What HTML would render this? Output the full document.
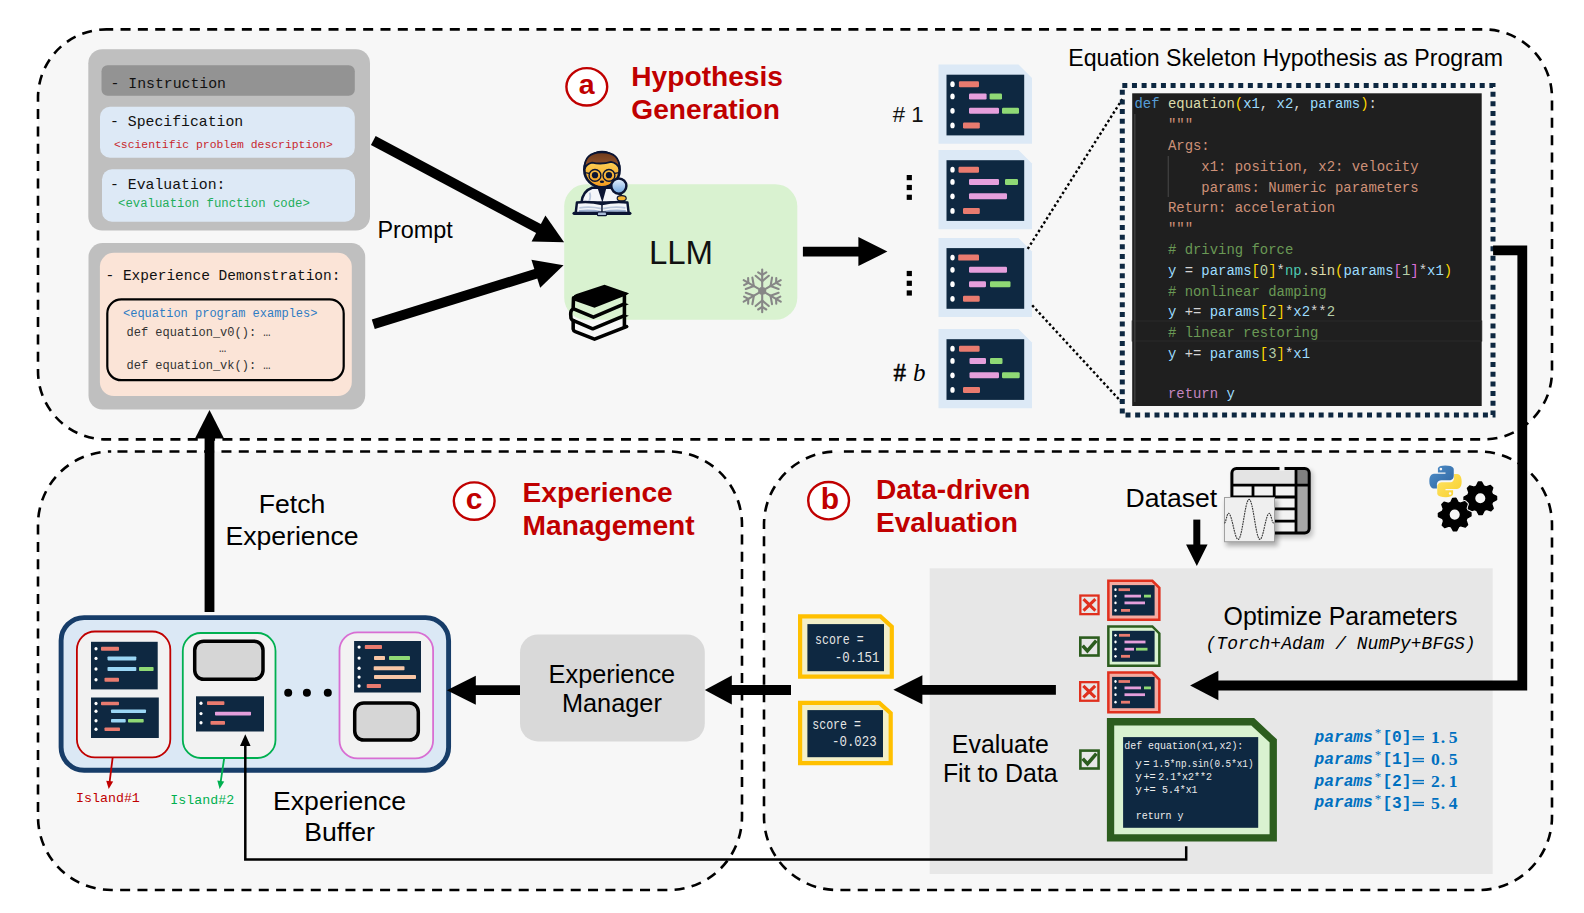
<!DOCTYPE html>
<html><head><meta charset="utf-8"><title>Diagram</title>
<style>html,body{margin:0;padding:0;background:#fff;} svg{display:block;}</style></head>
<body><svg width="1584" height="913" viewBox="0 0 1584 913">
<defs><linearGradient id="pyb" x1="0" y1="0" x2="1" y2="1"><stop offset="0" stop-color="#4f8fca"/><stop offset="1" stop-color="#2f65a0"/></linearGradient><linearGradient id="pyy" x1="1" y1="1" x2="0" y2="0"><stop offset="0" stop-color="#f7cf2a"/><stop offset="1" stop-color="#ffe46a"/></linearGradient><filter id="blur" x="-20%" y="-20%" width="140%" height="140%"><feGaussianBlur stdDeviation="2.5"/></filter></defs>
<rect width="1584" height="913" fill="#fff"/>
<rect x="38" y="29.4" width="1514" height="410" rx="68.3" fill="#f7f7f7" stroke="#000" stroke-width="2.6" stroke-dasharray="10 7.33" stroke-dashoffset="-14.24"/>
<rect x="38" y="451.5" width="704" height="438.5" rx="73.2" fill="#f7f7f7" stroke="#000" stroke-width="2.6" stroke-dasharray="10 7.33" stroke-dashoffset="-6.27"/>
<rect x="764" y="451.5" width="788" height="438.5" rx="73.2" fill="#f7f7f7" stroke="#000" stroke-width="2.6" stroke-dasharray="10 7.33" stroke-dashoffset="-6.7"/>
<rect x="929.7" y="568.3" width="563" height="305.7" fill="#e7e7e7"/>
<rect x="88.3" y="49.2" width="281.7" height="181.3" rx="14" fill="#bfbfbf" stroke="none" stroke-width="0" />
<rect x="101.5" y="65.2" width="253.3" height="30.6" rx="6" fill="#939393" stroke="none" stroke-width="0" />
<rect x="100" y="106.8" width="254.8" height="51" rx="10" fill="#dde9f6" stroke="none" stroke-width="0" />
<rect x="102" y="169.2" width="253" height="52.5" rx="10" fill="#dde9f6" stroke="none" stroke-width="0" />
<text x="110.5" y="87.7" font-size="14.8" fill="#111" style="font-family:'Liberation Mono',monospace" font-weight="normal" text-anchor="start"  xml:space="preserve">- Instruction</text>
<text x="110" y="125.8" font-size="14.8" fill="#111" style="font-family:'Liberation Mono',monospace" font-weight="normal" text-anchor="start"  xml:space="preserve">- Specification</text>
<text x="114" y="147.7" font-size="11.4" fill="#c8282e" style="font-family:'Liberation Mono',monospace" font-weight="normal" text-anchor="start"  xml:space="preserve">&lt;scientific problem description&gt;</text>
<text x="110" y="188.5" font-size="14.8" fill="#111" style="font-family:'Liberation Mono',monospace" font-weight="normal" text-anchor="start"  xml:space="preserve">- Evaluation:</text>
<text x="118" y="206.9" font-size="12.3" fill="#1fae5b" style="font-family:'Liberation Mono',monospace" font-weight="normal" text-anchor="start"  xml:space="preserve">&lt;evaluation function code&gt;</text>
<rect x="88.5" y="243.1" width="276.7" height="166.5" rx="14" fill="#bfbfbf" stroke="none" stroke-width="0" />
<rect x="99.9" y="252.8" width="251.9" height="143.2" rx="14" fill="#fbe4d7" stroke="none" stroke-width="0" />
<rect x="107.3" y="299.4" width="236.4" height="80.8" rx="14" fill="none" stroke="#000" stroke-width="2.2" />
<text x="105.5" y="280" font-size="14.5" fill="#111" style="font-family:'Liberation Mono',monospace" font-weight="normal" text-anchor="start"  xml:space="preserve">- Experience Demonstration:</text>
<text x="123" y="317" font-size="12" fill="#2e7cc4" style="font-family:'Liberation Mono',monospace" font-weight="normal" text-anchor="start"  xml:space="preserve">&lt;equation program examples&gt;</text>
<text x="126.5" y="336" font-size="12" fill="#333" style="font-family:'Liberation Mono',monospace" font-weight="normal" text-anchor="start"  xml:space="preserve">def equation_v0(): …</text>
<text x="219" y="352" font-size="12" fill="#333" style="font-family:'Liberation Mono',monospace" font-weight="normal" text-anchor="start"  xml:space="preserve">…</text>
<text x="126.5" y="368.7" font-size="12" fill="#333" style="font-family:'Liberation Mono',monospace" font-weight="normal" text-anchor="start"  xml:space="preserve">def equation_vk(): …</text>
<text x="377.4" y="238" font-size="23.4" fill="#000" style="font-family:'Liberation Sans',sans-serif" font-weight="normal" text-anchor="start"  xml:space="preserve">Prompt</text>
<ellipse cx="586.8" cy="86.8" rx="20.4" ry="18.7" fill="#fff" stroke="#c00000" stroke-width="2.4"/>
<text x="586.8" y="93.6" font-size="28.5" fill="#c00000" style="font-family:'Liberation Sans',sans-serif" font-weight="bold" text-anchor="middle"  xml:space="preserve">a</text>
<text x="631.3" y="85.9" font-size="28.15" fill="#c00000" style="font-family:'Liberation Sans',sans-serif" font-weight="bold" text-anchor="start"  xml:space="preserve">Hypothesis</text>
<text x="631.3" y="119.2" font-size="28.15" fill="#c00000" style="font-family:'Liberation Sans',sans-serif" font-weight="bold" text-anchor="start"  xml:space="preserve">Generation</text>
<ellipse cx="474.2" cy="501.1" rx="20.4" ry="18.7" fill="#fff" stroke="#c00000" stroke-width="2.4"/>
<text x="474.2" y="508.8" font-size="30" fill="#c00000" style="font-family:'Liberation Sans',sans-serif" font-weight="bold" text-anchor="middle"  xml:space="preserve">c</text>
<text x="522.6" y="502.4" font-size="28.15" fill="#c00000" style="font-family:'Liberation Sans',sans-serif" font-weight="bold" text-anchor="start"  xml:space="preserve">Experience</text>
<text x="522.6" y="535.1" font-size="28.15" fill="#c00000" style="font-family:'Liberation Sans',sans-serif" font-weight="bold" text-anchor="start"  xml:space="preserve">Management</text>
<ellipse cx="828.6" cy="500.7" rx="20.4" ry="18.7" fill="#fff" stroke="#c00000" stroke-width="2.4"/>
<text x="829.9" y="509.1" font-size="30" fill="#c00000" style="font-family:'Liberation Sans',sans-serif" font-weight="bold" text-anchor="middle"  xml:space="preserve">b</text>
<text x="875.9" y="499.1" font-size="28.1" fill="#c00000" style="font-family:'Liberation Sans',sans-serif" font-weight="bold" text-anchor="start"  xml:space="preserve">Data-driven</text>
<text x="875.9" y="531.9" font-size="28.1" fill="#c00000" style="font-family:'Liberation Sans',sans-serif" font-weight="bold" text-anchor="start"  xml:space="preserve">Evaluation</text>
<rect x="564.2" y="184.2" width="233.1" height="135.6" rx="22" fill="#d9f2d0" stroke="none" stroke-width="0" />
<text x="681" y="264.4" font-size="33" fill="#111" style="font-family:'Liberation Sans',sans-serif" font-weight="normal" text-anchor="middle"  xml:space="preserve">LLM</text>
<g stroke="#878787" stroke-width="2.1" stroke-linecap="round" fill="none"><line x1="762.2" y1="290.9" x2="762.20" y2="269.50"/><line x1="762.20" y1="281.27" x2="768.79" y2="275.74"/><line x1="762.20" y1="281.27" x2="755.61" y2="275.74"/><line x1="762.20" y1="274.85" x2="766.27" y2="272.31"/><line x1="762.20" y1="274.85" x2="758.13" y2="272.31"/><line x1="762.2" y1="290.9" x2="743.67" y2="280.20"/><line x1="753.86" y1="286.08" x2="752.37" y2="277.62"/><line x1="753.86" y1="286.08" x2="745.78" y2="289.03"/><line x1="748.30" y1="282.88" x2="748.13" y2="278.08"/><line x1="748.30" y1="282.88" x2="744.06" y2="285.13"/><line x1="762.2" y1="290.9" x2="743.67" y2="301.60"/><line x1="753.86" y1="295.71" x2="745.78" y2="292.77"/><line x1="753.86" y1="295.71" x2="752.37" y2="304.18"/><line x1="748.30" y1="298.92" x2="744.06" y2="296.67"/><line x1="748.30" y1="298.92" x2="748.13" y2="303.72"/><line x1="762.2" y1="290.9" x2="762.20" y2="312.30"/><line x1="762.20" y1="300.53" x2="755.61" y2="306.06"/><line x1="762.20" y1="300.53" x2="768.79" y2="306.06"/><line x1="762.20" y1="306.95" x2="758.13" y2="309.49"/><line x1="762.20" y1="306.95" x2="766.27" y2="309.49"/><line x1="762.2" y1="290.9" x2="780.73" y2="301.60"/><line x1="770.54" y1="295.71" x2="772.03" y2="304.18"/><line x1="770.54" y1="295.71" x2="778.62" y2="292.77"/><line x1="776.10" y1="298.92" x2="776.27" y2="303.72"/><line x1="776.10" y1="298.92" x2="780.34" y2="296.67"/><line x1="762.2" y1="290.9" x2="780.73" y2="280.20"/><line x1="770.54" y1="286.08" x2="778.62" y2="289.03"/><line x1="770.54" y1="286.08" x2="772.03" y2="277.62"/><line x1="776.10" y1="282.88" x2="780.34" y2="285.13"/><line x1="776.10" y1="282.88" x2="776.27" y2="278.08"/></g><polygon points="766.50,290.90 764.35,294.62 760.05,294.62 757.90,290.90 760.05,287.18 764.35,287.18" fill="#878787"/>
<g transform="translate(560,280) scale(0.07117)">
<path d="M185,245 Q188,212 232,198 L625,66 L968,186 L905,224 L485,390 L205,290 Z" fill="#000"/>
<g fill="none" stroke="#000" stroke-width="50" stroke-linecap="round" stroke-linejoin="round">
<path d="M190,250 L185,390"/>
<path d="M200,410 L470,522 L905,336"/>
<path d="M175,415 Q150,430 150,480 L155,540 Q160,560 190,570"/>
<path d="M190,570 L460,686 L905,500"/>
<path d="M185,575 L185,690 Q188,715 215,725 L485,832 L935,655"/>
<path d="M905,210 L905,655"/>
</g>
<polygon points="900,170 968,188 900,228" fill="#000"/>
<polygon points="900,320 968,342 900,370" fill="#000"/>
<polygon points="900,480 968,502 900,530" fill="#000"/>
<polygon points="900,630 968,652 900,690" fill="#000"/>
</g>
<g transform="translate(565,145) scale(0.08217)">
<defs>
<linearGradient id="face" x1="0" y1="0" x2="0" y2="1"><stop offset="0" stop-color="#ffe36a"/><stop offset="1" stop-color="#f39a1e"/></linearGradient>
<linearGradient id="hair" x1="0" y1="0" x2="0" y2="1"><stop offset="0" stop-color="#6e3a1c"/><stop offset="1" stop-color="#9a5a2e"/></linearGradient>
<linearGradient id="lens" x1="0" y1="0" x2="0" y2="1"><stop offset="0" stop-color="#e9f4ff"/><stop offset="1" stop-color="#6ea6e0"/></linearGradient>
</defs>
<path d="M200,700 Q215,560 330,520 L570,520 Q690,560 710,700 Z" fill="#f4f6fa" stroke="#0b1533" stroke-width="30"/>
<path d="M395,520 L505,520 L455,700 Z" fill="#0b1533"/>
<path d="M300,580 Q320,640 290,690" fill="none" stroke="#b9c6dc" stroke-width="22"/>
<circle cx="450" cy="300" r="215" fill="url(#face)" stroke="#0b1533" stroke-width="32"/>
<path d="M240,290 Q230,90 450,88 Q670,90 662,290 Q640,220 560,205 Q450,240 330,215 Q260,230 240,290 Z" fill="url(#hair)" stroke="#0b1533" stroke-width="22"/>
<circle cx="365" cy="370" r="72" fill="none" stroke="#0b1533" stroke-width="17"/>
<circle cx="535" cy="370" r="72" fill="none" stroke="#0b1533" stroke-width="17"/>
<circle cx="365" cy="368" r="38" fill="#0b1533"/>
<circle cx="535" cy="368" r="38" fill="#0b1533"/>
<path d="M245,335 L293,345 M607,345 L655,335" stroke="#0b1533" stroke-width="16"/>
<ellipse cx="450" cy="447" rx="26" ry="16" fill="#0b1533"/>
<ellipse cx="690" cy="648" rx="55" ry="32" fill="#f7b733" stroke="#0b1533" stroke-width="14"/>
<circle cx="655" cy="500" r="92" fill="url(#lens)" stroke="#0b1533" stroke-width="30"/>
<path d="M130,830 L145,700 Q300,680 450,720 Q600,680 760,700 L775,830 Z" fill="#f4f6fa" stroke="#0b1533" stroke-width="30" stroke-linejoin="round"/>
<path d="M175,765 Q310,745 440,775 M465,775 Q600,745 735,765" fill="none" stroke="#b9c6dc" stroke-width="22"/>
<path d="M170,805 Q310,790 440,815 M465,815 Q600,790 740,805" fill="none" stroke="#9fb3d3" stroke-width="26"/>
<line x1="450" y1="715" x2="450" y2="830" stroke="#0b1533" stroke-width="18"/>
<line x1="110" y1="832" x2="790" y2="832" stroke="#0b1533" stroke-width="38" stroke-linecap="round"/>
<rect x="395" y="815" width="110" height="45" rx="12" fill="#a9bbd8" stroke="#0b1533" stroke-width="14"/>
</g>
<line x1="373.3" y1="140.5" x2="539.39" y2="229.03" stroke="#000" stroke-width="10"/>
<polygon points="564.10,242.20 531.59,241.53 545.42,215.59" fill="#000"/>
<line x1="373.3" y1="324.3" x2="536.76" y2="273.51" stroke="#000" stroke-width="10"/>
<polygon points="563.50,265.20 540.17,287.84 531.44,259.77" fill="#000"/>
<line x1="802.9" y1="251.6" x2="859.40" y2="251.60" stroke="#000" stroke-width="9.9"/>
<polygon points="887.40,251.60 858.40,266.10 858.40,237.10" fill="#000"/>
<polygon points="938.5,64.5 1018.5,64.5 1032.0,78.0 1032.0,143.7 938.5,143.7" fill="#dce9f6" />
<rect x="946.5" y="74.7" width="77.7" height="60.7" fill="#0e2841"/>
<ellipse cx="952.5" cy="84.2" rx="2.2" ry="2.9" fill="#fff"/>
<rect x="958.9" y="81.2" width="20.100000000000023" height="6" rx="1.2" fill="#e97b6f"/>
<ellipse cx="952.5" cy="96.4" rx="2.2" ry="2.9" fill="#fff"/>
<rect x="969.0" y="93.4" width="17.600000000000023" height="6" rx="1.2" fill="#e59fdc"/>
<rect x="989.6" y="93.4" width="12.399999999999977" height="6" rx="1.2" fill="#8fd975"/>
<ellipse cx="952.5" cy="110.80000000000001" rx="2.2" ry="2.9" fill="#fff"/>
<rect x="969.0" y="107.80000000000001" width="30.0" height="6" rx="1.2" fill="#e59fdc"/>
<rect x="1002.0" y="107.80000000000001" width="17.0" height="6" rx="1.2" fill="#8fd975"/>
<ellipse cx="952.5" cy="125.4" rx="2.2" ry="2.9" fill="#fff"/>
<rect x="963.0" y="122.4" width="16.799999999999955" height="6" rx="1.2" fill="#e97b6f"/>
<polygon points="938.5,150 1018.5,150 1032.0,163.5 1032.0,229.2 938.5,229.2" fill="#dce9f6" />
<rect x="946.5" y="160.2" width="77.7" height="60.7" fill="#0e2841"/>
<ellipse cx="952.5" cy="169.7" rx="2.2" ry="2.9" fill="#fff"/>
<rect x="958.5" y="166.7" width="20.5" height="6" rx="1.2" fill="#e97b6f"/>
<ellipse cx="952.5" cy="181.89999999999998" rx="2.2" ry="2.9" fill="#fff"/>
<rect x="969.0" y="178.89999999999998" width="30.0" height="6" rx="1.2" fill="#e59fdc"/>
<rect x="1005.0" y="178.89999999999998" width="13.0" height="6" rx="1.2" fill="#8fd975"/>
<ellipse cx="952.5" cy="196.29999999999998" rx="2.2" ry="2.9" fill="#fff"/>
<rect x="969.0" y="193.29999999999998" width="38.0" height="6" rx="1.2" fill="#e59fdc"/>
<ellipse cx="952.5" cy="210.89999999999998" rx="2.2" ry="2.9" fill="#fff"/>
<rect x="963.0" y="207.89999999999998" width="16.799999999999955" height="6" rx="1.2" fill="#e97b6f"/>
<polygon points="938.5,237.9 1018.5,237.9 1032.0,251.4 1032.0,317.1 938.5,317.1" fill="#dce9f6" />
<rect x="946.5" y="248.1" width="77.7" height="60.7" fill="#0e2841"/>
<ellipse cx="952.5" cy="257.6" rx="2.2" ry="2.9" fill="#fff"/>
<rect x="958.2" y="254.60000000000002" width="20.799999999999955" height="6" rx="1.2" fill="#e97b6f"/>
<ellipse cx="952.5" cy="269.8" rx="2.2" ry="2.9" fill="#fff"/>
<rect x="969.0" y="266.8" width="38.0" height="6" rx="1.2" fill="#e59fdc"/>
<ellipse cx="952.5" cy="284.2" rx="2.2" ry="2.9" fill="#fff"/>
<rect x="969.0" y="281.2" width="17.0" height="6" rx="1.2" fill="#e59fdc"/>
<rect x="990.0" y="281.2" width="20.5" height="6" rx="1.2" fill="#8fd975"/>
<ellipse cx="952.5" cy="298.8" rx="2.2" ry="2.9" fill="#fff"/>
<rect x="963.0" y="295.8" width="16.700000000000045" height="6" rx="1.2" fill="#e97b6f"/>
<polygon points="938.5,329 1018.5,329 1032.0,342.5 1032.0,408.2 938.5,408.2" fill="#dce9f6" />
<rect x="946.5" y="339.2" width="77.7" height="60.7" fill="#0e2841"/>
<ellipse cx="952.5" cy="348.7" rx="2.2" ry="2.9" fill="#fff"/>
<rect x="959.0" y="345.7" width="20.600000000000023" height="6" rx="1.2" fill="#e97b6f"/>
<ellipse cx="952.5" cy="360.9" rx="2.2" ry="2.9" fill="#fff"/>
<rect x="969.5" y="357.9" width="16.5" height="6" rx="1.2" fill="#e59fdc"/>
<rect x="990.0" y="357.9" width="12.5" height="6" rx="1.2" fill="#8fd975"/>
<ellipse cx="952.5" cy="375.3" rx="2.2" ry="2.9" fill="#fff"/>
<rect x="969.5" y="372.3" width="29.5" height="6" rx="1.2" fill="#e59fdc"/>
<rect x="1002.0" y="372.3" width="17.700000000000045" height="6" rx="1.2" fill="#8fd975"/>
<ellipse cx="952.5" cy="389.9" rx="2.2" ry="2.9" fill="#fff"/>
<rect x="963.0" y="386.9" width="17.0" height="6" rx="1.2" fill="#e97b6f"/>
<text x="892.8" y="122" font-size="22.2" fill="#111" style="font-family:'Liberation Sans',sans-serif" font-weight="normal" text-anchor="start"  xml:space="preserve"># 1</text>
<text x="893.6" y="380.9" font-size="25" fill="#000" style="font-family:'Liberation Serif',serif" font-weight="normal" text-anchor="start" stroke="#000" stroke-width="0.55" xml:space="preserve">#</text>
<text x="913" y="380.9" font-size="25" fill="#000" style="font-family:'Liberation Serif',serif" font-weight="normal" text-anchor="start" font-style="italic" xml:space="preserve">b</text>
<rect x="906.6999999999999" y="175.0" width="5.2" height="5.2" fill="#000"/>
<rect x="906.6999999999999" y="184.9" width="5.2" height="5.2" fill="#000"/>
<rect x="906.6999999999999" y="194.70000000000002" width="5.2" height="5.2" fill="#000"/>
<rect x="906.6999999999999" y="270.9" width="5.2" height="5.2" fill="#000"/>
<rect x="906.6999999999999" y="280.7" width="5.2" height="5.2" fill="#000"/>
<rect x="906.6999999999999" y="290.4" width="5.2" height="5.2" fill="#000"/>
<line x1="1027.7" y1="248.9" x2="1122.3" y2="99.1" stroke="#000" stroke-width="2.4" stroke-dasharray="2.5 2.5"/>
<line x1="1032.2" y1="305.3" x2="1122.7" y2="403.4" stroke="#000" stroke-width="2.4" stroke-dasharray="2.5 2.5"/>
<text x="1068.3" y="65.9" font-size="23.15" fill="#000" style="font-family:'Liberation Sans',sans-serif" font-weight="normal" text-anchor="start"  xml:space="preserve">Equation Skeleton Hypothesis as Program</text>
<rect x="1122.3" y="85.6" width="370.7" height="329.4" fill="none" stroke="#0e2841" stroke-width="5" stroke-dasharray="5 4.66"/>
<rect x="1132.2" y="93.3" width="349.5" height="312.7" fill="#1f1f1f"/>
<rect x="1132.2" y="321" width="349.5" height="20" fill="none" stroke="#2a2a2a" stroke-width="1"/>
<line x1="1134.8" y1="114" x2="1134.8" y2="402" stroke="#404040" stroke-width="1.3"/>
<line x1="1168.3" y1="156" x2="1168.3" y2="197" stroke="#404040" stroke-width="1.3"/>
<text x="1134.5" y="107.8" font-size="13.93" style="font-family:'Liberation Mono',monospace" xml:space="preserve"><tspan fill="#569cd6">def </tspan><tspan fill="#dcdcaa">equation</tspan><tspan fill="#ffd700">(</tspan><tspan fill="#9cdcfe">x1</tspan><tspan fill="#d4d4d4">, </tspan><tspan fill="#9cdcfe">x2</tspan><tspan fill="#d4d4d4">, </tspan><tspan fill="#9cdcfe">params</tspan><tspan fill="#ffd700">)</tspan><tspan fill="#d4d4d4">:</tspan></text>
<text x="1134.5" y="128.5" font-size="13.93" style="font-family:'Liberation Mono',monospace" xml:space="preserve"><tspan fill="#ce9178">    """</tspan></text>
<text x="1134.5" y="150" font-size="13.93" style="font-family:'Liberation Mono',monospace" xml:space="preserve"><tspan fill="#ce9178">    Args:</tspan></text>
<text x="1134.5" y="170.5" font-size="13.93" style="font-family:'Liberation Mono',monospace" xml:space="preserve"><tspan fill="#ce9178">        x1: position, x2: velocity</tspan></text>
<text x="1134.5" y="191.7" font-size="13.93" style="font-family:'Liberation Mono',monospace" xml:space="preserve"><tspan fill="#ce9178">        params: Numeric parameters</tspan></text>
<text x="1134.5" y="212" font-size="13.93" style="font-family:'Liberation Mono',monospace" xml:space="preserve"><tspan fill="#ce9178">    Return: acceleration</tspan></text>
<text x="1134.5" y="232.8" font-size="13.93" style="font-family:'Liberation Mono',monospace" xml:space="preserve"><tspan fill="#ce9178">    """</tspan></text>
<text x="1134.5" y="254" font-size="13.93" style="font-family:'Liberation Mono',monospace" xml:space="preserve"><tspan fill="#6a9955">    # driving force</tspan></text>
<text x="1134.5" y="275" font-size="13.93" style="font-family:'Liberation Mono',monospace" xml:space="preserve"><tspan fill="#9cdcfe">    y</tspan><tspan fill="#d4d4d4"> = </tspan><tspan fill="#9cdcfe">params</tspan><tspan fill="#ffd700">[</tspan><tspan fill="#b5cea8">0</tspan><tspan fill="#ffd700">]</tspan><tspan fill="#d4d4d4">*</tspan><tspan fill="#4ec9b0">np</tspan><tspan fill="#d4d4d4">.</tspan><tspan fill="#dcdcaa">sin</tspan><tspan fill="#ffd700">(</tspan><tspan fill="#9cdcfe">params</tspan><tspan fill="#da70d6">[</tspan><tspan fill="#b5cea8">1</tspan><tspan fill="#da70d6">]</tspan><tspan fill="#d4d4d4">*</tspan><tspan fill="#9cdcfe">x1</tspan><tspan fill="#ffd700">)</tspan></text>
<text x="1134.5" y="295.7" font-size="13.93" style="font-family:'Liberation Mono',monospace" xml:space="preserve"><tspan fill="#6a9955">    # nonlinear damping</tspan></text>
<text x="1134.5" y="316.4" font-size="13.93" style="font-family:'Liberation Mono',monospace" xml:space="preserve"><tspan fill="#9cdcfe">    y</tspan><tspan fill="#d4d4d4"> += </tspan><tspan fill="#9cdcfe">params</tspan><tspan fill="#ffd700">[</tspan><tspan fill="#b5cea8">2</tspan><tspan fill="#ffd700">]</tspan><tspan fill="#d4d4d4">*</tspan><tspan fill="#9cdcfe">x2</tspan><tspan fill="#d4d4d4">**</tspan><tspan fill="#b5cea8">2</tspan></text>
<text x="1134.5" y="336.6" font-size="13.93" style="font-family:'Liberation Mono',monospace" xml:space="preserve"><tspan fill="#6a9955">    # linear restoring</tspan></text>
<text x="1134.5" y="357.5" font-size="13.93" style="font-family:'Liberation Mono',monospace" xml:space="preserve"><tspan fill="#9cdcfe">    y</tspan><tspan fill="#d4d4d4"> += </tspan><tspan fill="#9cdcfe">params</tspan><tspan fill="#ffd700">[</tspan><tspan fill="#b5cea8">3</tspan><tspan fill="#ffd700">]</tspan><tspan fill="#d4d4d4">*</tspan><tspan fill="#9cdcfe">x1</tspan></text>
<text x="1134.5" y="398" font-size="13.93" style="font-family:'Liberation Mono',monospace" xml:space="preserve"><tspan fill="#c586c0">    return </tspan><tspan fill="#9cdcfe">y</tspan></text>
<polyline points="1493.1,250.3 1522.3,250.3 1522.3,685.5 1217,685.5" fill="none" stroke="#000" stroke-width="9.8" stroke-linejoin="miter"/>
<polygon points="1190.1,685.5 1218.4,670.8 1218.4,700.2" fill="#000"/>
<line x1="209.5" y1="612" x2="209.50" y2="437.60" stroke="#000" stroke-width="9.8"/>
<polygon points="209.50,410.10 224.00,438.60 195.00,438.60" fill="#000"/>
<text x="292.1" y="512.8" font-size="26.6" fill="#000" style="font-family:'Liberation Sans',sans-serif" font-weight="normal" text-anchor="middle"  xml:space="preserve">Fetch</text>
<text x="292" y="544.6" font-size="26.6" fill="#000" style="font-family:'Liberation Sans',sans-serif" font-weight="normal" text-anchor="middle"  xml:space="preserve">Experience</text>
<rect x="61.1" y="617.6" width="387.5" height="152.7" rx="23" fill="#dbe8f5" stroke="#173d69" stroke-width="4.9" />
<rect x="76.9" y="631.5" width="93.4" height="125.8" rx="18" fill="#f2f2f2" stroke="#c00000" stroke-width="1.8" />
<rect x="182.8" y="633" width="92.7" height="125" rx="18" fill="#f2f2f2" stroke="#00b050" stroke-width="1.8" />
<rect x="339.5" y="632.4" width="93.6" height="126" rx="18" fill="#f2f2f2" stroke="#d86ed3" stroke-width="1.8" />
<circle cx="288.2" cy="692.7" r="4" fill="#000"/>
<circle cx="306.9" cy="692.7" r="4" fill="#000"/>
<circle cx="327.8" cy="692.7" r="4" fill="#000"/>
<rect x="194.7" y="641.2" width="68.3" height="38.1" rx="9" fill="#d6d6d6" stroke="#000" stroke-width="3.5" />
<rect x="354.7" y="703" width="63.6" height="37.1" rx="9" fill="#d6d6d6" stroke="#000" stroke-width="3.5" />
<rect x="91" y="641.8" width="66.69999999999999" height="47.60000000000002" fill="#0e2841"/>
<ellipse cx="96" cy="648.7" rx="1.6" ry="1.7" fill="#fff"/>
<rect x="101" y="646.7" width="18" height="4" rx="0.8" fill="#e97b6f"/>
<ellipse cx="96" cy="658.4" rx="1.6" ry="1.7" fill="#fff"/>
<rect x="107.5" y="656.4" width="28.80000000000001" height="4" rx="0.8" fill="#9bd6f4"/>
<ellipse cx="96" cy="669" rx="1.6" ry="1.7" fill="#fff"/>
<rect x="107.5" y="667.0" width="28.80000000000001" height="4" rx="0.8" fill="#9bd6f4"/>
<rect x="139" y="667.0" width="14.599999999999994" height="4" rx="0.8" fill="#8fd975"/>
<ellipse cx="96" cy="679.8" rx="1.6" ry="1.7" fill="#fff"/>
<rect x="104.5" y="677.8" width="14.5" height="4" rx="0.8" fill="#e97b6f"/>
<rect x="91" y="697.5" width="67.80000000000001" height="40.5" fill="#0e2841"/>
<ellipse cx="96" cy="703.5" rx="1.6" ry="1.7" fill="#fff"/>
<rect x="101" y="701.7" width="18" height="3.6" rx="0.8" fill="#e97b6f"/>
<ellipse cx="96" cy="711.3" rx="1.6" ry="1.7" fill="#fff"/>
<rect x="111" y="709.5" width="35" height="3.6" rx="0.8" fill="#9bd6f4"/>
<ellipse cx="96" cy="720.7" rx="1.6" ry="1.7" fill="#fff"/>
<rect x="111" y="718.9000000000001" width="14.700000000000003" height="3.6" rx="0.8" fill="#9bd6f4"/>
<rect x="128" y="718.9000000000001" width="15.699999999999989" height="3.6" rx="0.8" fill="#8fd975"/>
<ellipse cx="96" cy="729.3" rx="1.6" ry="1.7" fill="#fff"/>
<rect x="104.5" y="727.5" width="15.5" height="3.6" rx="0.8" fill="#e97b6f"/>
<rect x="196" y="696.3" width="68" height="35.200000000000045" fill="#0e2841"/>
<ellipse cx="201" cy="703.2" rx="1.6" ry="1.7" fill="#fff"/>
<rect x="207" y="701.3000000000001" width="17.400000000000006" height="3.8" rx="0.8" fill="#e97b6f"/>
<ellipse cx="201" cy="713.6" rx="1.6" ry="1.7" fill="#fff"/>
<rect x="215" y="711.7" width="36" height="3.8" rx="0.8" fill="#e59fdc"/>
<ellipse cx="201" cy="722.8" rx="1.6" ry="1.7" fill="#fff"/>
<rect x="210.5" y="720.9" width="14.5" height="3.8" rx="0.8" fill="#e97b6f"/>
<rect x="354.1" y="641" width="66.89999999999998" height="51.5" fill="#0e2841"/>
<ellipse cx="359.1" cy="647.1" rx="1.6" ry="1.7" fill="#fff"/>
<rect x="364.8" y="645.1" width="17.19999999999999" height="4" rx="0.8" fill="#e97b6f"/>
<ellipse cx="359.1" cy="658.1" rx="1.6" ry="1.7" fill="#fff"/>
<rect x="374" y="656.1" width="11" height="4" rx="0.8" fill="#f8c6a6"/>
<rect x="389" y="656.1" width="21" height="4" rx="0.8" fill="#8fd975"/>
<ellipse cx="359.1" cy="668.2" rx="1.6" ry="1.7" fill="#fff"/>
<rect x="373.7" y="666.2" width="30.80000000000001" height="4" rx="0.8" fill="#f8c6a6"/>
<ellipse cx="359.1" cy="677.1" rx="1.6" ry="1.7" fill="#fff"/>
<rect x="374" y="675.1" width="42" height="4" rx="0.8" fill="#f8c6a6"/>
<ellipse cx="359.1" cy="686" rx="1.6" ry="1.7" fill="#fff"/>
<rect x="366.7" y="684.0" width="14.300000000000011" height="4" rx="0.8" fill="#e97b6f"/>
<line x1="112.6" y1="758" x2="109.57" y2="782.05" stroke="#c00000" stroke-width="1.8"/>
<polygon points="108.70,789.00 106.23,780.63 113.17,781.50" fill="#c00000"/>
<line x1="224.2" y1="758" x2="220.63" y2="782.08" stroke="#00b050" stroke-width="1.8"/>
<polygon points="219.60,789.00 217.31,780.57 224.24,781.60" fill="#00b050"/>
<text x="76" y="801.7" font-size="13.3" fill="#c00000" style="font-family:'Liberation Mono',monospace" font-weight="normal" text-anchor="start"  xml:space="preserve">Island#1</text>
<text x="170.3" y="804" font-size="13.3" fill="#00b050" style="font-family:'Liberation Mono',monospace" font-weight="normal" text-anchor="start"  xml:space="preserve">Island#2</text>
<text x="339.6" y="810.2" font-size="26.6" fill="#000" style="font-family:'Liberation Sans',sans-serif" font-weight="normal" text-anchor="middle"  xml:space="preserve">Experience</text>
<text x="339.6" y="840.7" font-size="26.6" fill="#000" style="font-family:'Liberation Sans',sans-serif" font-weight="normal" text-anchor="middle"  xml:space="preserve">Buffer</text>
<polyline points="1186.2,846.3 1186.2,859.5 245.3,859.5 245.3,744" fill="none" stroke="#000" stroke-width="2.5"/>
<polygon points="245.3,734.3 240,746 250.6,746" fill="#000"/>
<rect x="520" y="634.5" width="184.8" height="106.9" rx="18" fill="#d9d9d9" stroke="none" stroke-width="0" />
<text x="611.9" y="682.8" font-size="25.3" fill="#000" style="font-family:'Liberation Sans',sans-serif" font-weight="normal" text-anchor="middle"  xml:space="preserve">Experience</text>
<text x="611.9" y="712.4" font-size="25.3" fill="#000" style="font-family:'Liberation Sans',sans-serif" font-weight="normal" text-anchor="middle"  xml:space="preserve">Manager</text>
<line x1="520" y1="690.2" x2="474.80" y2="690.20" stroke="#000" stroke-width="9.8"/>
<polygon points="446.80,690.20 475.80,675.70 475.80,704.70" fill="#000"/>
<line x1="791" y1="690" x2="730.80" y2="690.00" stroke="#000" stroke-width="9.8"/>
<polygon points="704.80,690.00 731.80,675.50 731.80,704.50" fill="#000"/>
<line x1="1055.9" y1="689.8" x2="921.40" y2="689.80" stroke="#000" stroke-width="9.8"/>
<polygon points="893.40,689.80 922.40,675.30 922.40,704.30" fill="#000"/>
<text x="1125.6" y="507.1" font-size="26.55" fill="#000" style="font-family:'Liberation Sans',sans-serif" font-weight="normal" text-anchor="start"  xml:space="preserve">Dataset</text>
<line x1="1196.8" y1="519.6" x2="1196.80" y2="545.60" stroke="#000" stroke-width="7"/>
<polygon points="1196.80,566.10 1186.05,544.60 1207.55,544.60" fill="#000"/>
<g>
<rect x="1233" y="470" width="80" height="68" rx="5" fill="#000" opacity="0.22" filter="url(#blur)"/>
<rect x="1231.9" y="468.4" width="77.3" height="64.6" rx="4.5" fill="#f2f2f2"/>
<rect x="1233" y="469.5" width="62" height="15" fill="#e4e4e4"/>
<rect x="1297" y="469.5" width="11" height="15" fill="#808080"/>
<rect x="1297" y="486" width="11" height="46" fill="#a6a6a6"/>
<rect x="1231.9" y="468.4" width="77.3" height="64.6" rx="4.5" fill="none" stroke="#000" stroke-width="3"/>
<rect x="1279.5" y="466" width="5" height="4.5" fill="#f6f6f6"/>
<g stroke="#000" stroke-width="2.8">
<line x1="1231" y1="485.1" x2="1309" y2="485.1"/>
<line x1="1231" y1="497" x2="1296" y2="497"/>
<line x1="1231" y1="508.8" x2="1296" y2="508.8"/>
<line x1="1231" y1="521.1" x2="1296" y2="521.1"/>
<line x1="1253" y1="485" x2="1253" y2="497"/>
<line x1="1274.2" y1="485" x2="1274.2" y2="497"/>
<line x1="1296" y1="468" x2="1296" y2="533"/>
</g>
</g>
<rect x="1226" y="500" width="52" height="46" fill="#000" opacity="0.3" filter="url(#blur)"/>
<rect x="1224.5" y="497.5" width="50" height="44.2" fill="#efefef" stroke="#a0a0a0" stroke-width="1"/>
<path d="M1224.4,523.1 C1225.92,523.10 1226.88,513.30 1228.4,513.3 C1232.12,513.30 1234.48,539.40 1238.2,539.4 C1242.34,539.40 1244.96,499.40 1249.1,499.4 C1253.20,499.40 1255.80,539.40 1259.9,539.4 C1263.47,539.40 1265.73,513.30 1269.3,513.3 C1270.97,513.30 1272.03,523.10 1273.7,523.1" fill="none" stroke="#333" stroke-width="1.1" stroke-dasharray="1.8 0.8"/>
<g transform="translate(1429,464.8) scale(0.33)">
<path d="M49,2 C26,2 27,12 27,12 L27,23 L50,23 L50,27 L17,27 C17,27 1,25 1,49 C1,73 15,72 15,72 L24,72 L24,61 C24,61 23,47 38,47 L61,47 C61,47 75,47 75,33 L75,14 C75,14 77,2 49,2 Z M36,9 A4,4 0 1 1 36,17 A4,4 0 1 1 36,9 Z" fill="url(#pyb)"/>
<path d="M51,98 C74,98 73,88 73,88 L73,77 L50,77 L50,73 L83,73 C83,73 99,75 99,51 C99,27 85,28 85,28 L76,28 L76,39 C76,39 77,53 62,53 L39,53 C39,53 25,53 25,67 L25,86 C25,86 23,98 51,98 Z M64,83 A4,4 0 1 1 64,91 A4,4 0 1 1 64,83 Z" fill="url(#pyy)"/>
</g>
<path d="M1496.48,496.35 L1496.55,499.54 L1492.54,501.72 L1491.64,504.05 L1493.12,508.36 L1490.91,510.67 L1486.54,509.38 L1484.26,510.38 L1482.25,514.48 L1479.06,514.55 L1476.88,510.54 L1474.55,509.64 L1470.24,511.12 L1467.93,508.91 L1469.22,504.54 L1468.22,502.26 L1464.12,500.25 L1464.05,497.06 L1468.06,494.88 L1468.96,492.55 L1467.48,488.24 L1469.69,485.93 L1474.06,487.22 L1476.34,486.22 L1478.35,482.12 L1481.54,482.05 L1483.72,486.06 L1486.05,486.96 L1490.36,485.48 L1492.67,487.69 L1491.38,492.06 L1492.38,494.34 Z M1486.1,498.3 A5.8,5.8 0 1 0 1474.5,498.3 A5.8,5.8 0 1 0 1486.1,498.3 Z" fill="#000" fill-rule="evenodd" stroke="#000" stroke-width="1.5" stroke-linejoin="round"/>
<path d="M1470.88,512.65 L1470.95,515.84 L1466.94,518.02 L1466.04,520.35 L1467.52,524.66 L1465.31,526.97 L1460.94,525.68 L1458.66,526.68 L1456.65,530.78 L1453.46,530.85 L1451.28,526.84 L1448.95,525.94 L1444.64,527.42 L1442.33,525.21 L1443.62,520.84 L1442.62,518.56 L1438.52,516.55 L1438.45,513.36 L1442.46,511.18 L1443.36,508.85 L1441.88,504.54 L1444.09,502.23 L1448.46,503.52 L1450.74,502.52 L1452.75,498.42 L1455.94,498.35 L1458.12,502.36 L1460.45,503.26 L1464.76,501.78 L1467.07,503.99 L1465.78,508.36 L1466.78,510.64 Z" fill="#f7f7f7" stroke="#f7f7f7" stroke-width="3.5" stroke-linejoin="round"/>
<path d="M1470.88,512.65 L1470.95,515.84 L1466.94,518.02 L1466.04,520.35 L1467.52,524.66 L1465.31,526.97 L1460.94,525.68 L1458.66,526.68 L1456.65,530.78 L1453.46,530.85 L1451.28,526.84 L1448.95,525.94 L1444.64,527.42 L1442.33,525.21 L1443.62,520.84 L1442.62,518.56 L1438.52,516.55 L1438.45,513.36 L1442.46,511.18 L1443.36,508.85 L1441.88,504.54 L1444.09,502.23 L1448.46,503.52 L1450.74,502.52 L1452.75,498.42 L1455.94,498.35 L1458.12,502.36 L1460.45,503.26 L1464.76,501.78 L1467.07,503.99 L1465.78,508.36 L1466.78,510.64 Z M1460.5,514.6 A5.8,5.8 0 1 0 1448.9,514.6 A5.8,5.8 0 1 0 1460.5,514.6 Z" fill="#000" fill-rule="evenodd" stroke="#000" stroke-width="1.5" stroke-linejoin="round"/>
<rect x="1080.3500000000001" y="595.55" width="18.2" height="18.6" fill="none" stroke="#e0301e" stroke-width="2.3"/>
<path d="M1083.5,599.1999999999999 L1095.4,610.6999999999999 M1095.4,599.1999999999999 L1083.5,610.6999999999999" stroke="#e0301e" stroke-width="3.1"/>
<rect x="1080.3" y="637.5999999999999" width="18.2" height="17.9" fill="none" stroke="#2c5d1e" stroke-width="2.6"/>
<path d="M1082.6,645.5999999999999 L1087.4,650.9 L1096.3,640.5999999999999" fill="none" stroke="#2c5d1e" stroke-width="3.6"/>
<rect x="1080.15" y="682.15" width="18.2" height="18.6" fill="none" stroke="#e0301e" stroke-width="2.3"/>
<path d="M1083.3,685.8 L1095.2,697.3 M1095.2,685.8 L1083.3,697.3" stroke="#e0301e" stroke-width="3.1"/>
<rect x="1080.3999999999999" y="750.5999999999999" width="18.2" height="17.9" fill="none" stroke="#2c5d1e" stroke-width="2.6"/>
<path d="M1082.6999999999998,758.5999999999999 L1087.5,763.9 L1096.3999999999999,753.5999999999999" fill="none" stroke="#2c5d1e" stroke-width="3.6"/>
<polygon points="1108.35,580.75 1152.35,580.75 1159.35,587.75 1159.35,619.65 1108.35,619.65" fill="#f4aaa0" stroke="#e0301e" stroke-width="2.5"/>
<rect x="1112.1" y="585.1" width="42.5" height="30.399999999999977" fill="#0e2841"/>
<ellipse cx="1115.5" cy="589.7" rx="1.2" ry="1.4" fill="#fff"/>
<rect x="1118.5" y="588.3000000000001" width="11.5" height="2.8" fill="#e97b6f"/>
<ellipse cx="1115.5" cy="596.1" rx="1.2" ry="1.4" fill="#fff"/>
<rect x="1124.5" y="594.7" width="16.5" height="2.8" fill="#e59fdc"/>
<rect x="1144" y="594.7" width="7" height="2.8" fill="#8fd975"/>
<ellipse cx="1115.5" cy="602.9" rx="1.2" ry="1.4" fill="#fff"/>
<rect x="1124.5" y="601.5" width="20.5" height="2.8" fill="#e59fdc"/>
<ellipse cx="1115.5" cy="610.4" rx="1.2" ry="1.4" fill="#fff"/>
<rect x="1121" y="609.0" width="9" height="2.8" fill="#e97b6f"/>
<polygon points="1108.35,626.45 1152.35,626.45 1159.35,633.45 1159.35,665.85 1108.35,665.85" fill="#d9f2d0" stroke="#2c5d1e" stroke-width="2.5"/>
<rect x="1112.1" y="630.8000000000001" width="42.5" height="30.899999999999977" fill="#0e2841"/>
<ellipse cx="1115.5" cy="635.3000000000001" rx="1.2" ry="1.4" fill="#fff"/>
<rect x="1119" y="633.9000000000001" width="11" height="2.8" fill="#e97b6f"/>
<ellipse cx="1115.5" cy="642.0000000000001" rx="1.2" ry="1.4" fill="#fff"/>
<rect x="1124.5" y="640.6000000000001" width="21.0" height="2.8" fill="#e59fdc"/>
<ellipse cx="1115.5" cy="649.2" rx="1.2" ry="1.4" fill="#fff"/>
<rect x="1124.5" y="647.8000000000001" width="9.5" height="2.8" fill="#e59fdc"/>
<rect x="1136" y="647.8000000000001" width="11.5" height="2.8" fill="#8fd975"/>
<ellipse cx="1115.5" cy="656.3000000000001" rx="1.2" ry="1.4" fill="#fff"/>
<rect x="1121" y="654.9000000000001" width="9" height="2.8" fill="#e97b6f"/>
<polygon points="1108.35,672.55 1152.35,672.55 1159.35,679.55 1159.35,712.35 1108.35,712.35" fill="#f4aaa0" stroke="#e0301e" stroke-width="2.5"/>
<rect x="1112.1" y="676.9" width="42.5" height="31.300000000000068" fill="#0e2841"/>
<ellipse cx="1115.5" cy="681.5" rx="1.2" ry="1.4" fill="#fff"/>
<rect x="1118.5" y="680.1" width="11.5" height="2.8" fill="#e97b6f"/>
<ellipse cx="1115.5" cy="687.9" rx="1.2" ry="1.4" fill="#fff"/>
<rect x="1124.5" y="686.5" width="16.5" height="2.8" fill="#e59fdc"/>
<rect x="1144" y="686.5" width="7" height="2.8" fill="#8fd975"/>
<ellipse cx="1115.5" cy="694.6999999999999" rx="1.2" ry="1.4" fill="#fff"/>
<rect x="1124.5" y="693.3" width="20.5" height="2.8" fill="#e59fdc"/>
<ellipse cx="1115.5" cy="702.1999999999999" rx="1.2" ry="1.4" fill="#fff"/>
<rect x="1121" y="700.8" width="9" height="2.8" fill="#e97b6f"/>
<polygon points="1110.55,721.75 1252.7,721.75 1273.25,740.9 1273.25,837.95 1110.55,837.95" fill="#d9f2d0" stroke="#2c5d1e" stroke-width="7.3" stroke-linejoin="miter"/>
<rect x="1123.1" y="737.1" width="135.1" height="90.7" fill="#0e2841"/>
<text x="1124.3" y="749.3" font-size="10.1" fill="#ececec" style="font-family:'Liberation Mono',monospace" textLength="119.0" lengthAdjust="spacingAndGlyphs" xml:space="preserve">def equation(x1,x2):</text>
<text x="1135.2" y="767" font-size="10.1" fill="#ececec" style="font-family:'Liberation Mono',monospace" textLength="6.599999999999909" lengthAdjust="spacingAndGlyphs" xml:space="preserve">y</text>
<text x="1143.4" y="767" font-size="10.1" fill="#ececec" style="font-family:'Liberation Mono',monospace" textLength="6.099999999999909" lengthAdjust="spacingAndGlyphs" xml:space="preserve">=</text>
<text x="1153" y="767" font-size="10.1" fill="#ececec" style="font-family:'Liberation Mono',monospace" textLength="100.5" lengthAdjust="spacingAndGlyphs" xml:space="preserve">1.5*np.sin(0.5*x1)</text>
<text x="1135.2" y="779.9" font-size="10.1" fill="#ececec" style="font-family:'Liberation Mono',monospace" textLength="6.599999999999909" lengthAdjust="spacingAndGlyphs" xml:space="preserve">y</text>
<text x="1143.4" y="779.9" font-size="10.1" fill="#ececec" style="font-family:'Liberation Mono',monospace" textLength="12.399999999999864" lengthAdjust="spacingAndGlyphs" xml:space="preserve">+=</text>
<text x="1158.2" y="779.9" font-size="10.1" fill="#ececec" style="font-family:'Liberation Mono',monospace" textLength="53.799999999999955" lengthAdjust="spacingAndGlyphs" xml:space="preserve">2.1*x2**2</text>
<text x="1135.2" y="792.7" font-size="10.1" fill="#ececec" style="font-family:'Liberation Mono',monospace" textLength="6.599999999999909" lengthAdjust="spacingAndGlyphs" xml:space="preserve">y</text>
<text x="1143.4" y="792.7" font-size="10.1" fill="#ececec" style="font-family:'Liberation Mono',monospace" textLength="12.399999999999864" lengthAdjust="spacingAndGlyphs" xml:space="preserve">+=</text>
<text x="1162" y="792.7" font-size="10.1" fill="#ececec" style="font-family:'Liberation Mono',monospace" textLength="35.5" lengthAdjust="spacingAndGlyphs" xml:space="preserve">5.4*x1</text>
<text x="1135.8" y="818.7" font-size="10.1" fill="#ececec" style="font-family:'Liberation Mono',monospace" textLength="47.700000000000045" lengthAdjust="spacingAndGlyphs" xml:space="preserve">return y</text>
<text x="1340.5" y="624.7" font-size="24.9" fill="#000" style="font-family:'Liberation Sans',sans-serif" font-weight="normal" text-anchor="middle"  xml:space="preserve">Optimize Parameters</text>
<text x="1340.6" y="648.6" font-size="18" fill="#000" style="font-family:'Liberation Mono',monospace" font-weight="normal" text-anchor="middle" font-style="italic" xml:space="preserve">(Torch+Adam / NumPy+BFGS)</text>
<text x="1000.3" y="753.4" font-size="24.9" fill="#000" style="font-family:'Liberation Sans',sans-serif" font-weight="normal" text-anchor="middle"  xml:space="preserve">Evaluate</text>
<text x="1000.3" y="782.3" font-size="24.9" fill="#000" style="font-family:'Liberation Sans',sans-serif" font-weight="normal" text-anchor="middle"  xml:space="preserve">Fit to Data</text>
<text x="1314.5" y="741.6" font-size="16.2" fill="#0070c0" style="font-family:'Liberation Mono',monospace" font-weight="bold" text-anchor="start" font-style="italic" xml:space="preserve">params</text>
<text x="1378" y="737.1" font-size="13" fill="#0070c0" style="font-family:'Liberation Serif',serif" font-weight="normal" text-anchor="middle"  xml:space="preserve">*</text>
<text x="1382.4" y="742.2" font-size="16.2" fill="#0070c0" style="font-family:'Liberation Mono',monospace" font-weight="bold" text-anchor="start"  xml:space="preserve">[0]</text>
<rect x="1412.6" y="736.0" width="11.4" height="1.4" fill="#0070c0"/>
<rect x="1412.6" y="738.8" width="11.4" height="1.4" fill="#0070c0"/>
<text x="1435.5" y="743.0" font-size="17.6" fill="#0070c0" style="font-family:'Liberation Serif',serif" font-weight="bold" text-anchor="middle"  xml:space="preserve">1</text>
<text x="1442.9" y="743.0" font-size="17.6" fill="#0070c0" style="font-family:'Liberation Serif',serif" font-weight="bold" text-anchor="middle"  xml:space="preserve">.</text>
<text x="1453.1" y="743.0" font-size="17.6" fill="#0070c0" style="font-family:'Liberation Serif',serif" font-weight="bold" text-anchor="middle"  xml:space="preserve">5</text>
<text x="1314.5" y="763.5500000000001" font-size="16.2" fill="#0070c0" style="font-family:'Liberation Mono',monospace" font-weight="bold" text-anchor="start" font-style="italic" xml:space="preserve">params</text>
<text x="1378" y="759.0500000000001" font-size="13" fill="#0070c0" style="font-family:'Liberation Serif',serif" font-weight="normal" text-anchor="middle"  xml:space="preserve">*</text>
<text x="1382.4" y="764.1500000000001" font-size="16.2" fill="#0070c0" style="font-family:'Liberation Mono',monospace" font-weight="bold" text-anchor="start"  xml:space="preserve">[1]</text>
<rect x="1412.6" y="757.95" width="11.4" height="1.4" fill="#0070c0"/>
<rect x="1412.6" y="760.75" width="11.4" height="1.4" fill="#0070c0"/>
<text x="1435.5" y="764.95" font-size="17.6" fill="#0070c0" style="font-family:'Liberation Serif',serif" font-weight="bold" text-anchor="middle"  xml:space="preserve">0</text>
<text x="1442.9" y="764.95" font-size="17.6" fill="#0070c0" style="font-family:'Liberation Serif',serif" font-weight="bold" text-anchor="middle"  xml:space="preserve">.</text>
<text x="1453.1" y="764.95" font-size="17.6" fill="#0070c0" style="font-family:'Liberation Serif',serif" font-weight="bold" text-anchor="middle"  xml:space="preserve">5</text>
<text x="1314.5" y="785.5" font-size="16.2" fill="#0070c0" style="font-family:'Liberation Mono',monospace" font-weight="bold" text-anchor="start" font-style="italic" xml:space="preserve">params</text>
<text x="1378" y="781.0" font-size="13" fill="#0070c0" style="font-family:'Liberation Serif',serif" font-weight="normal" text-anchor="middle"  xml:space="preserve">*</text>
<text x="1382.4" y="786.1" font-size="16.2" fill="#0070c0" style="font-family:'Liberation Mono',monospace" font-weight="bold" text-anchor="start"  xml:space="preserve">[2]</text>
<rect x="1412.6" y="779.9" width="11.4" height="1.4" fill="#0070c0"/>
<rect x="1412.6" y="782.6999999999999" width="11.4" height="1.4" fill="#0070c0"/>
<text x="1435.5" y="786.9" font-size="17.6" fill="#0070c0" style="font-family:'Liberation Serif',serif" font-weight="bold" text-anchor="middle"  xml:space="preserve">2</text>
<text x="1442.9" y="786.9" font-size="17.6" fill="#0070c0" style="font-family:'Liberation Serif',serif" font-weight="bold" text-anchor="middle"  xml:space="preserve">.</text>
<text x="1453.1" y="786.9" font-size="17.6" fill="#0070c0" style="font-family:'Liberation Serif',serif" font-weight="bold" text-anchor="middle"  xml:space="preserve">1</text>
<text x="1314.5" y="807.45" font-size="16.2" fill="#0070c0" style="font-family:'Liberation Mono',monospace" font-weight="bold" text-anchor="start" font-style="italic" xml:space="preserve">params</text>
<text x="1378" y="802.95" font-size="13" fill="#0070c0" style="font-family:'Liberation Serif',serif" font-weight="normal" text-anchor="middle"  xml:space="preserve">*</text>
<text x="1382.4" y="808.0500000000001" font-size="16.2" fill="#0070c0" style="font-family:'Liberation Mono',monospace" font-weight="bold" text-anchor="start"  xml:space="preserve">[3]</text>
<rect x="1412.6" y="801.85" width="11.4" height="1.4" fill="#0070c0"/>
<rect x="1412.6" y="804.65" width="11.4" height="1.4" fill="#0070c0"/>
<text x="1435.5" y="808.85" font-size="17.6" fill="#0070c0" style="font-family:'Liberation Serif',serif" font-weight="bold" text-anchor="middle"  xml:space="preserve">5</text>
<text x="1442.9" y="808.85" font-size="17.6" fill="#0070c0" style="font-family:'Liberation Serif',serif" font-weight="bold" text-anchor="middle"  xml:space="preserve">.</text>
<text x="1453.1" y="808.85" font-size="17.6" fill="#0070c0" style="font-family:'Liberation Serif',serif" font-weight="bold" text-anchor="middle"  xml:space="preserve">4</text>
<polygon points="800.1,616.3000000000001 880.3,616.3000000000001 891.8,626.8000000000001 891.8,676.6999999999999 800.1,676.6999999999999" fill="#f3efc8" stroke="#ffc000" stroke-width="4.2"/>
<rect x="807.4" y="624.1" width="76.60000000000002" height="47.10000000000002" fill="#0e2841"/>
<text x="815" y="643.8" font-size="15" fill="#e4e4e4" style="font-family:'Liberation Mono',monospace" textLength="48.60000000000002" lengthAdjust="spacingAndGlyphs" xml:space="preserve">score =</text>
<text x="834.8" y="662.2" font-size="15" fill="#e4e4e4" style="font-family:'Liberation Mono',monospace" textLength="44.5" lengthAdjust="spacingAndGlyphs">-0.151</text>
<polygon points="800.1,702.8000000000001 879.1999999999999,702.8000000000001 890.6999999999999,713.3000000000001 890.6999999999999,763.1999999999999 800.1,763.1999999999999" fill="#f3efc8" stroke="#ffc000" stroke-width="4.2"/>
<rect x="807.4" y="710.1" width="75.60000000000002" height="47.10000000000002" fill="#0e2841"/>
<text x="812.3" y="728.7" font-size="15" fill="#e4e4e4" style="font-family:'Liberation Mono',monospace" textLength="48.60000000000002" lengthAdjust="spacingAndGlyphs" xml:space="preserve">score =</text>
<text x="832.1" y="746.3" font-size="15" fill="#e4e4e4" style="font-family:'Liberation Mono',monospace" textLength="44.5" lengthAdjust="spacingAndGlyphs">-0.023</text>
</svg></body></html>
